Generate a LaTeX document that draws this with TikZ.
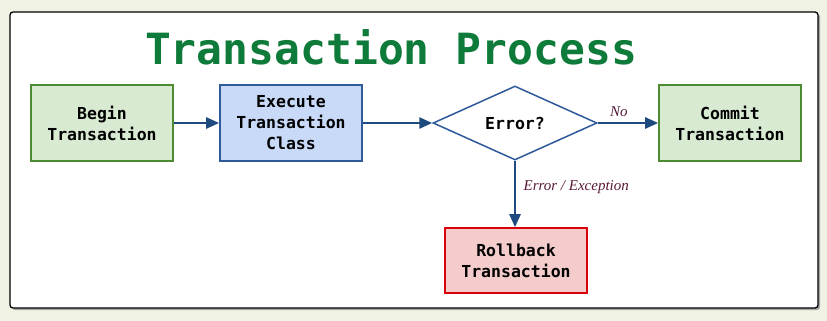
\documentclass[tikz,border=0pt]{standalone}
\usepackage{fontspec}
\setmonofont{DejaVu Sans Mono}
\newfontfamily\lblfont{Liberation Serif}
\usetikzlibrary{shapes.geometric,arrows.meta}
\definecolor{bgc}{HTML}{F0F3E4}
\definecolor{titlec}{HTML}{0E7B3A}
\definecolor{gfill}{HTML}{D9EAD3}
\definecolor{gdraw}{HTML}{4D8B31}
\definecolor{bfill}{HTML}{C9DAF8}
\definecolor{bdraw}{HTML}{2E5A9A}
\definecolor{rfill}{HTML}{F4CCCC}
\definecolor{rdraw}{HTML}{D9000B}
\definecolor{arrc}{HTML}{1F4A80}
\definecolor{lblc}{HTML}{5A1A3A}
\tikzset{
  box/.style={draw, line width=1.6pt, minimum width=142pt, minimum height=76pt, align=center,
    font=\fontsize{16.5}{21}\selectfont\ttfamily\bfseries, inner sep=0pt},
  gbox/.style={box, fill=gfill, draw=gdraw},
  bbox/.style={box, fill=bfill, draw=bdraw},
  rbox/.style={box, fill=rfill, draw=rdraw, minimum height=65pt},
  dec/.style={diamond, aspect=2.2, draw=bdraw, fill=white, line width=1.5pt, minimum width=164pt, minimum height=74pt, inner sep=0pt,
    font=\fontsize{16.5}{21}\selectfont\ttfamily\bfseries},
  flow/.style={draw=arrc, line width=2.5pt, -{Triangle[length=13pt,width=11pt]}},
  lbl/.style={text=lblc, font=\fontsize{15}{17}\selectfont\lblfont\itshape}
}
\begin{document}
\begin{tikzpicture}[x=1pt,y=-1pt]
\fill[bgc] (0,0) rectangle (827,321);
\useasboundingbox (0,0) rectangle (827,321);
\fill[black!35, rounded corners=3pt] (12,14) rectangle (820,310);
\draw[fill=white, line width=1.3pt, rounded corners=3pt] (10,12) rectangle (818,308);
\node[text=titlec, font=\fontsize{43}{47}\selectfont\ttfamily\bfseries] (title) at (391,47) {Transaction Process};
\node[gbox] (begin) at (102,123) {Begin\\Transaction};
\node[bbox] (exec) at (291,123) {Execute\\Transaction\\Class};
\node[dec] (err) at (515,123) {Error?};
\node[gbox] (commit) at (730,123) {Commit\\Transaction};
\node[rbox] (roll) at (516,260.5) {Rollback\\Transaction};
\draw[flow] (begin.east) -- (exec.west);
\draw[flow] (exec.east) -- (err.west);
\draw[flow] (err.east) -- node[lbl, above, pos=0.35, yshift=2pt] (no) {No} (commit.west);
\draw[flow] (err.south) -- node[lbl, right, pos=0.4, xshift=4pt] (exc) {Error / Exception} (err.south |- roll.north);
\end{tikzpicture}
\end{document}
